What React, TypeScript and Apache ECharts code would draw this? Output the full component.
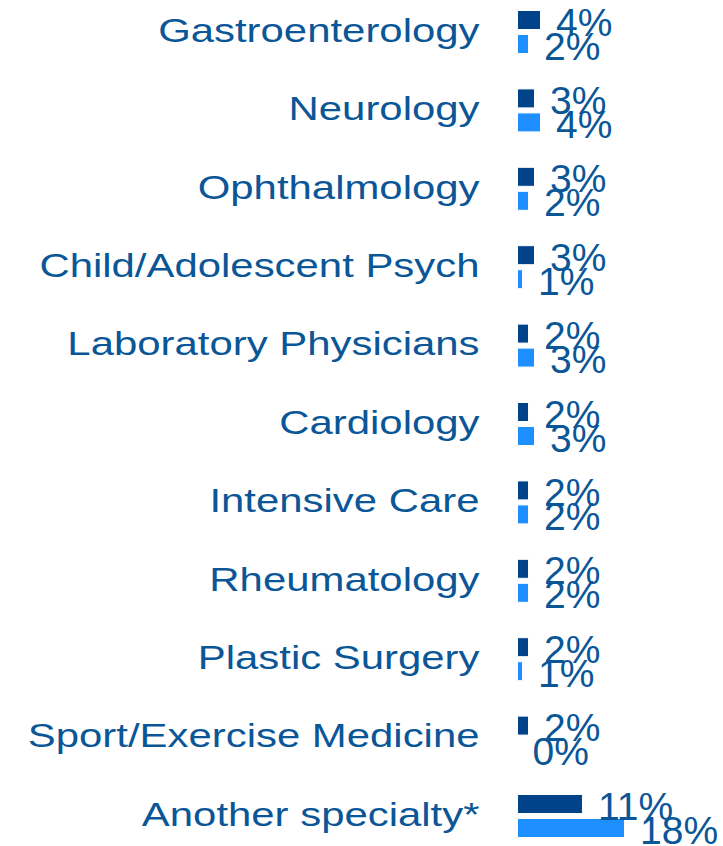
import React, { useEffect, useRef } from "react";
import * as echarts from "echarts";

const categories: string[] = [
  "Gastroenterology",
  "Neurology",
  "Ophthalmology",
  "Child/Adolescent Psych",
  "Laboratory Physicians",
  "Cardiology",
  "Intensive Care",
  "Rheumatology",
  "Plastic Surgery",
  "Sport/Exercise Medicine",
  "Another specialty*",
];
const darkValues: number[] = [4, 3, 3, 3, 2, 2, 2, 2, 2, 2, 11];
const lightValues: number[] = [2, 4, 2, 1, 3, 3, 2, 2, 1, 0, 18];

const DARK = "#00438a";
const LIGHT = "#1f8fff";
const TEXT = "#0a5697";
const FONT = 'Arial, "Liberation Sans", sans-serif';

export default function App() {
  const ref = useRef<HTMLDivElement>(null);
  useEffect(() => {
    if (!ref.current) return;
    const chart = echarts.init(ref.current, null, { renderer: "svg" });
    const valueLabel = {
      show: true,
      position: "right",
      distance: 15,
      formatter: "{c}%",
      fontSize: 39,
      fontFamily: FONT,
      color: TEXT,
      offset: [0, 2],
    };
    chart.setOption({
      animation: false,
      grid: { left: 517, width: 180, top: 0.8, height: 862.4 },
      xAxis: { type: "value", min: 0, max: 30, show: false },
      yAxis: {
        type: "category",
        data: categories,
        inverse: true,
        show: false,
      },
      series: [
        {
          type: "bar",
          name: "Group 1",
          data: darkValues,
          barWidth: 20,
          barGap: "20%",
          itemStyle: { color: DARK, borderColor: "#ffffff", borderWidth: 1 },
          label: valueLabel,
          z: 2,
        },
        {
          type: "bar",
          name: "Group 2",
          data: lightValues,
          barWidth: 20,
          barGap: "20%",
          itemStyle: { color: LIGHT, borderColor: "#ffffff", borderWidth: 1 },
          label: valueLabel,
          z: 2,
        },
        {
          type: "custom",
          name: "Category labels",
          data: categories.map((_, i) => [0, i]),
          encode: { x: 0, y: 1 },
          clip: false,
          silent: true,
          renderItem: (params: any, api: any) => {
            const p = api.coord([0, api.value(1)]);
            return {
              type: "text",
              x: p[0] - 37.5,
              y: p[1] - 1.5,
              scaleX: 1.27,
              style: {
                text: categories[params.dataIndex],
                fontSize: 33,
                fontFamily: FONT,
                fill: TEXT,
                align: "right",
                verticalAlign: "middle",
              },
            };
          },
          z: 3,
        },
      ],
    });
    return () => chart.dispose();
  }, []);
  return (
    <div
      style={{
        position: "absolute",
        left: 0,
        top: 0,
        width: 723,
        height: 846,
        overflow: "hidden",
        background: "#ffffff",
      }}
    >
      <div
        ref={ref}
        style={{ position: "absolute", left: 0, top: -8, width: 723, height: 864 }}
      />
    </div>
  );
}
